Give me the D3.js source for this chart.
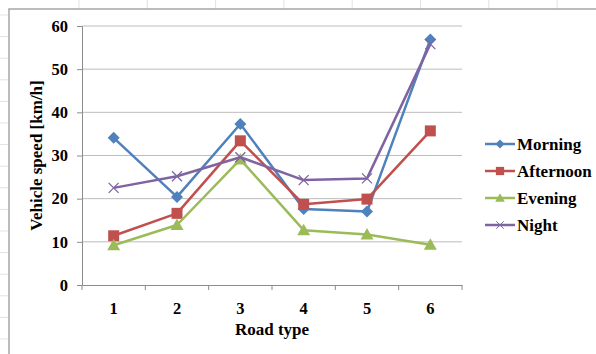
<!DOCTYPE html>
<html>
<head>
<meta charset="utf-8">
<script src="https://cdn.jsdelivr.net/npm/d3@7/dist/d3.min.js"></script>
<style>
  html, body { margin: 0; padding: 0; background: #fff; }
  svg { display: block; }
  text { font-family: "Liberation Serif", "Times New Roman", serif; font-weight: bold; fill: #000; }
</style>
</head>
<body>
<svg id="chart" width="596" height="354"></svg>
<script>
// Road types along the x axis
const roadTypes = ["1", "2", "3", "4", "5", "6"];
// Mean vehicle speed [km/h] per road type, by time of day
const morning   = [34.1, 20.4, 37.3, 17.6, 17.0, 56.9];
const afternoon = [11.4, 16.6, 33.4, 18.7, 19.9, 35.7];
const evening   = [9.2, 13.9, 29.1, 12.7, 11.7, 9.3];
const night     = [22.5, 25.2, 29.6, 24.3, 24.7, 55.8];
const seriesNames = ["Morning", "Afternoon", "Evening", "Night"];
const yTicks = [0, 10, 20, 30, 40, 50, 60];

const series = [
  { name: seriesNames[0], values: morning,   color: "#4F81BD", symbol: "diamond" },
  { name: seriesNames[1], values: afternoon, color: "#C0504D", symbol: "square" },
  { name: seriesNames[2], values: evening,   color: "#9BBB59", symbol: "triangle" },
  { name: seriesNames[3], values: night,     color: "#8064A2", symbol: "cross" }
];

const svg = d3.select("#chart");
const W = 596, H = 354;
const plot = { left: 82, right: 462, top: 26, bottom: 285 };

// Worksheet cell lines behind the chart object
const sheet = svg.append("g");
for (let x = 79; x < W; x += 68.3) {
  sheet.append("line").attr("x1", x).attr("x2", x).attr("y1", 0).attr("y2", 9)
    .attr("stroke", "#e2e2e2").attr("stroke-width", 1);
}
for (let y = 15; y < H; y += 21.6) {
  sheet.append("line").attr("x1", 0).attr("x2", 8).attr("y1", y).attr("y2", y)
    .attr("stroke", "#e2e2e2").attr("stroke-width", 1);
}

// Chart object frame
svg.append("rect").attr("x", 9).attr("y", 9).attr("width", W + 10).attr("height", H + 10)
  .attr("fill", "#fff").attr("stroke", "#a6a6a6").attr("stroke-width", 1.5);

const x = d3.scaleBand().domain(roadTypes).range([plot.left, plot.right]);
const y = d3.scaleLinear().domain([0, 60]).range([plot.bottom, plot.top]);

// Horizontal gridlines
svg.append("g").selectAll("line").data(yTicks.filter(d => d > 0)).join("line")
  .attr("x1", plot.left).attr("x2", plot.right)
  .attr("y1", d => y(d)).attr("y2", d => y(d))
  .attr("stroke", "#bdbdbd").attr("stroke-width", 1);

// Y axis
const yAxis = svg.append("g").attr("transform", `translate(${plot.left},0)`)
  .call(d3.axisLeft(y).tickValues(yTicks).tickSize(5).tickPadding(9));
yAxis.select(".domain").attr("stroke", "#8c8c8c");
yAxis.selectAll(".tick line").attr("stroke", "#8c8c8c");
yAxis.selectAll(".tick text").attr("font-size", 16.5)
  .attr("font-family", "Liberation Serif").attr("font-weight", "bold").attr("fill", "#000");

// X axis with ticks at category boundaries
const xAxis = svg.append("g").attr("transform", `translate(0,${plot.bottom})`)
  .call(d3.axisBottom(x).tickSize(0).tickPadding(17));
xAxis.select(".domain").attr("stroke", "#8c8c8c");
xAxis.selectAll(".tick text").attr("font-size", 16.5)
  .attr("font-family", "Liberation Serif").attr("font-weight", "bold").attr("fill", "#000");
const bounds = roadTypes.map(d => x(d)).concat([x(roadTypes[roadTypes.length - 1]) + x.bandwidth()]);
xAxis.selectAll(".bound").data(bounds).join("line").attr("class", "bound")
  .attr("x1", d => d).attr("x2", d => d).attr("y1", 0).attr("y2", 5)
  .attr("stroke", "#8c8c8c");

// Axis titles
svg.append("text").attr("x", (plot.left + plot.right) / 2).attr("y", 335)
  .attr("text-anchor", "middle").attr("font-size", 17).text("Road type");
svg.append("text").attr("transform", `translate(42,${(plot.top + plot.bottom) / 2}) rotate(-90)`)
  .attr("text-anchor", "middle").attr("font-size", 17).text("Vehicle speed [km/h]");

// Marker shapes
function marker(sel, s) {
  if (s.symbol === "diamond") {
    sel.append("path").attr("d", "M0,-6L6,0L0,6L-6,0Z").attr("fill", s.color);
  } else if (s.symbol === "square") {
    sel.append("rect").attr("x", -5.5).attr("y", -5.5).attr("width", 11).attr("height", 11).attr("fill", s.color);
  } else if (s.symbol === "triangle") {
    sel.append("path").attr("d", "M0,-6.5L6.5,5L-6.5,5Z").attr("fill", s.color);
  } else {
    sel.append("path").attr("d", "M-5,-5L5,5M-5,5L5,-5").attr("stroke", s.color)
      .attr("stroke-width", 1.3).attr("fill", "none");
  }
}

const cx = d => x(d) + x.bandwidth() / 2;
const line = d3.line().x(d => cx(d.cat)).y(d => y(d.v));

series.forEach(s => {
  const pts = s.values.map((v, i) => ({ cat: roadTypes[i], v }));
  const g = svg.append("g");
  g.append("path").datum(pts).attr("d", line).attr("fill", "none")
    .attr("stroke", s.color).attr("stroke-width", 2.5).attr("stroke-linejoin", "round");
  g.selectAll("g").data(pts).join("g")
    .attr("transform", d => `translate(${cx(d.cat)},${y(d.v)})`)
    .each(function () { marker(d3.select(this), s); });
});

// Legend
const legend = svg.append("g");
series.forEach((s, i) => {
  const ly = 144 + i * 27;
  const row = legend.append("g").attr("transform", `translate(0,${ly})`);
  row.append("line").attr("x1", 485).attr("x2", 515).attr("y1", 0).attr("y2", 0)
    .attr("stroke", s.color).attr("stroke-width", 2.5);
  const m = row.append("g").attr("transform", "translate(500,0) scale(0.75)");
  marker(m, s);
  row.append("text").attr("x", 517).attr("y", 6).attr("font-size", 17).text(s.name);
});
</script>
</body>
</html>
